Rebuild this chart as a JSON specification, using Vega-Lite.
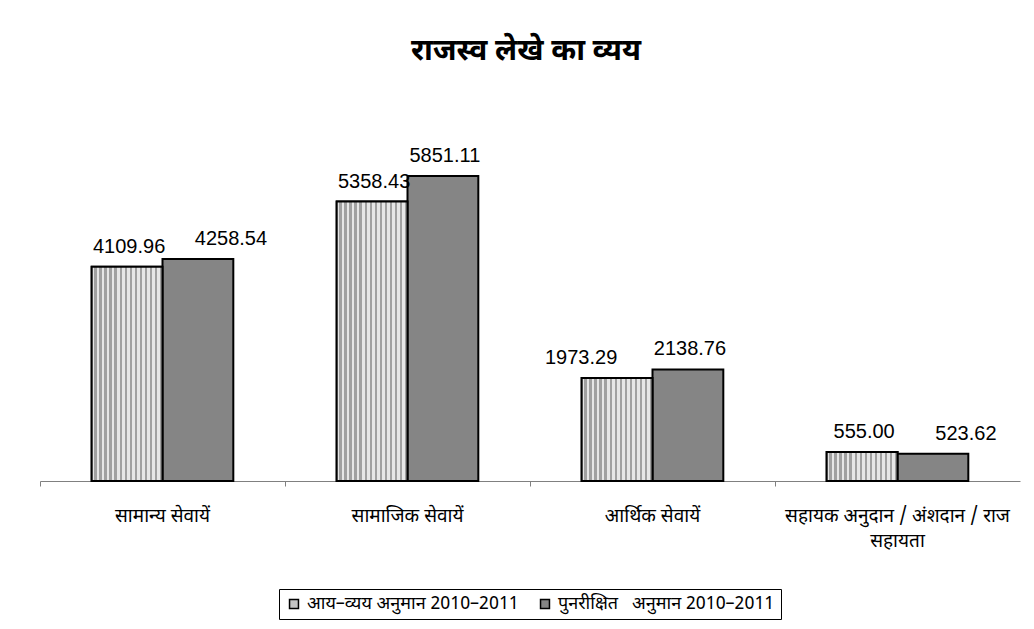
{
  "$schema": "https://vega.github.io/schema/vega-lite/v6.json",
  "autosize": "none",
  "width": 980,
  "height": 365,
  "padding": {"left": 40, "top": 116, "right": 14, "bottom": 148},
  "background": "white",
  "title": {
    "text": "राजस्व लेखे का व्यय",
    "fontSize": 30,
    "fontWeight": "bold",
    "font": "Noto Sans Devanagari, Noto Sans, sans-serif",
    "color": "black",
    "anchor": "middle",
    "offset": 50,
    "dx": -4
  },
  "data": {
    "values": [
      {"category": "सामान्य सेवायें", "series": "आय–व्यय अनुमान 2010–2011", "value": 4109.96},
      {"category": "सामान्य सेवायें", "series": "पुनरीक्षित\u00a0\u00a0 अनुमान 2010–2011", "value": 4258.54},
      {"category": "सामाजिक सेवायें", "series": "आय–व्यय अनुमान 2010–2011", "value": 5358.43},
      {"category": "सामाजिक सेवायें", "series": "पुनरीक्षित\u00a0\u00a0 अनुमान 2010–2011", "value": 5851.11},
      {"category": "आर्थिक सेवायें", "series": "आय–व्यय अनुमान 2010–2011", "value": 1973.29},
      {"category": "आर्थिक सेवायें", "series": "पुनरीक्षित\u00a0\u00a0 अनुमान 2010–2011", "value": 2138.76},
      {"category": "सहायक अनुदान/अंशदान/राज सहायता", "series": "आय–व्यय अनुमान 2010–2011", "value": 555.00},
      {"category": "सहायक अनुदान/अंशदान/राज सहायता", "series": "पुनरीक्षित\u00a0\u00a0 अनुमान 2010–2011", "value": 523.62}
    ]
  },
  "encoding": {
    "x": {
      "field": "category",
      "type": "nominal",
      "sort": null,
      "scale": {"paddingInner": 0, "paddingOuter": 0},
      "axis": {
        "title": null,
        "labelAngle": 0,
        "bandPosition": 0,
        "labelFontSize": 19,
        "labelFont": "Noto Sans Devanagari, Noto Sans, sans-serif",
        "labelColor": "black",
        "labelPadding": 20,
        "labelLimit": 300,
        "labelLineHeight": 25,
        "tickSize": 5,
        "tickColor": "#808080",
        "domainColor": "#808080",
        "labelExpr": "datum.label == 'सहायक अनुदान/अंशदान/राज सहायता' ? ['सहायक अनुदान / अंशदान / राज', 'सहायता'] : datum.label"
      }
    },
    "xOffset": {
      "field": "series",
      "type": "nominal",
      "sort": null,
      "scale": {"paddingInner": 0, "paddingOuter": 0.73}
    },
    "y": {
      "field": "value",
      "type": "quantitative",
      "scale": {"domain": [0, 7000]},
      "axis": null
    }
  },
  "layer": [
    {
      "mark": {"type": "bar", "stroke": "black", "strokeWidth": 2},
      "encoding": {
        "color": {
          "field": "series",
          "type": "nominal",
          "sort": null,
          "scale": {"range": ["#c4c4c4", "#858585"]},
          "legend": {
            "title": null,
            "orient": "none",
            "direction": "horizontal",
            "legendX": 239,
            "legendY": 473,
            "symbolType": "square",
            "symbolSize": 80,
            "symbolStrokeColor": "black",
            "symbolStrokeWidth": 1.5,
            "labelFontSize": 18,
            "labelFont": "Noto Sans Devanagari, Noto Sans, sans-serif",
            "labelColor": "black",
            "labelLimit": 400,
            "labelOffset": 4,
            "columnPadding": 17,
            "padding": 6,
            "strokeColor": "black"
          }
        }
      }
    },
    {
      "transform": [{"filter": "datum.value == 4109.96 || datum.value == 5358.43 || datum.value == 1973.29 || datum.value == 555"}],
      "mark": {
        "type": "bar",
        "stroke": "black",
        "strokeWidth": 2,
        "color": {
          "gradient": "linear",
          "x1": 0, "y1": 0, "x2": 1, "y2": 0,
          "stops": [
            {"offset": 0.0, "color": "#e6e6e6"}, {"offset": 0.036, "color": "#e6e6e6"}, {"offset": 0.036, "color": "#a0a0a0"}, {"offset": 0.071, "color": "#a0a0a0"},
            {"offset": 0.071, "color": "#e6e6e6"}, {"offset": 0.107, "color": "#e6e6e6"}, {"offset": 0.107, "color": "#a0a0a0"}, {"offset": 0.143, "color": "#a0a0a0"},
            {"offset": 0.143, "color": "#e6e6e6"}, {"offset": 0.179, "color": "#e6e6e6"}, {"offset": 0.179, "color": "#a0a0a0"}, {"offset": 0.214, "color": "#a0a0a0"},
            {"offset": 0.214, "color": "#e6e6e6"}, {"offset": 0.25, "color": "#e6e6e6"}, {"offset": 0.25, "color": "#a0a0a0"}, {"offset": 0.286, "color": "#a0a0a0"},
            {"offset": 0.286, "color": "#e6e6e6"}, {"offset": 0.321, "color": "#e6e6e6"}, {"offset": 0.321, "color": "#a0a0a0"}, {"offset": 0.357, "color": "#a0a0a0"},
            {"offset": 0.357, "color": "#e6e6e6"}, {"offset": 0.393, "color": "#e6e6e6"}, {"offset": 0.393, "color": "#a0a0a0"}, {"offset": 0.429, "color": "#a0a0a0"},
            {"offset": 0.429, "color": "#e6e6e6"}, {"offset": 0.464, "color": "#e6e6e6"}, {"offset": 0.464, "color": "#a0a0a0"}, {"offset": 0.5, "color": "#a0a0a0"},
            {"offset": 0.5, "color": "#e6e6e6"}, {"offset": 0.536, "color": "#e6e6e6"}, {"offset": 0.536, "color": "#a0a0a0"}, {"offset": 0.571, "color": "#a0a0a0"},
            {"offset": 0.571, "color": "#e6e6e6"}, {"offset": 0.607, "color": "#e6e6e6"}, {"offset": 0.607, "color": "#a0a0a0"}, {"offset": 0.643, "color": "#a0a0a0"},
            {"offset": 0.643, "color": "#e6e6e6"}, {"offset": 0.679, "color": "#e6e6e6"}, {"offset": 0.679, "color": "#a0a0a0"}, {"offset": 0.714, "color": "#a0a0a0"},
            {"offset": 0.714, "color": "#e6e6e6"}, {"offset": 0.75, "color": "#e6e6e6"}, {"offset": 0.75, "color": "#a0a0a0"}, {"offset": 0.786, "color": "#a0a0a0"},
            {"offset": 0.786, "color": "#e6e6e6"}, {"offset": 0.821, "color": "#e6e6e6"}, {"offset": 0.821, "color": "#a0a0a0"}, {"offset": 0.857, "color": "#a0a0a0"},
            {"offset": 0.857, "color": "#e6e6e6"}, {"offset": 0.893, "color": "#e6e6e6"}, {"offset": 0.893, "color": "#a0a0a0"}, {"offset": 0.929, "color": "#a0a0a0"},
            {"offset": 0.929, "color": "#e6e6e6"}, {"offset": 0.964, "color": "#e6e6e6"}, {"offset": 0.964, "color": "#a0a0a0"}, {"offset": 1.0, "color": "#a0a0a0"}
          ]
        }
      }
    },
    {
      "transform": [{"filter": "datum.value == 4109.96 || datum.value == 5358.43 || datum.value == 5851.11 || datum.value == 2138.76 || datum.value == 555"}],
      "mark": {
        "type": "text",
        "baseline": "alphabetic",
        "dy": -14,
        "dx": 2,
        "fontSize": 20,
        "font": "Liberation Sans, Arial, sans-serif",
        "color": "black"
      },
      "encoding": {
        "text": {"field": "value", "type": "quantitative", "format": ".2f"}
      }
    },
    {
      "transform": [{"filter": "datum.value == 4258.54 || datum.value == 523.62"}],
      "mark": {
        "type": "text",
        "baseline": "alphabetic",
        "dy": -14,
        "dx": 33,
        "fontSize": 20,
        "font": "Liberation Sans, Arial, sans-serif",
        "color": "black"
      },
      "encoding": {
        "text": {"field": "value", "type": "quantitative", "format": ".2f"}
      }
    },
    {
      "transform": [{"filter": "datum.value == 1973.29"}],
      "mark": {
        "type": "text",
        "baseline": "alphabetic",
        "dy": -14,
        "dx": -36,
        "fontSize": 20,
        "font": "Liberation Sans, Arial, sans-serif",
        "color": "black"
      },
      "encoding": {
        "text": {"field": "value", "type": "quantitative", "format": ".2f"}
      }
    }
  ],
  "config": {
    "view": {"stroke": null}
  }
}
